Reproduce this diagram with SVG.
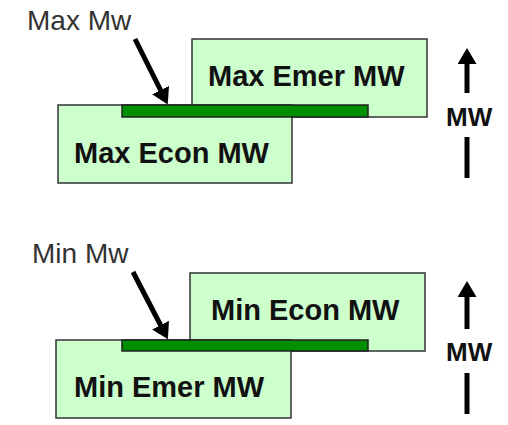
<svg xmlns="http://www.w3.org/2000/svg" width="508" height="425" viewBox="0 0 508 425">
<style>
.box{fill:#ccffcc;stroke:#333;stroke-width:1.5}
.bar{fill:#008f00;stroke:#222;stroke-width:1.5}
.lbl{font-family:"Liberation Sans",Arial,sans-serif;font-size:28px;fill:#333}
.bl{font-family:"Liberation Sans",Arial,sans-serif;font-size:29px;font-weight:bold;fill:#111}
.mw{font-family:"Liberation Sans",Arial,sans-serif;font-size:26px;font-weight:bold;fill:#111}
.ln{stroke:#000;stroke-width:5;fill:none}
</style>
<defs>
<marker id="ah" markerUnits="userSpaceOnUse" markerWidth="17" markerHeight="19" refX="1" refY="9.5" orient="auto">
<path d="M0,0 L16,9.5 L0,19 Z" fill="#000"/>
</marker>
</defs>
<rect width="508" height="425" fill="#fff"/>
<g id="max-emer">
<rect class="box" x="192" y="39" width="235" height="78"/>
<text class="bl" x="208" y="86">Max Emer MW</text>
</g>
<g id="max-econ">
<rect class="box" x="58" y="105" width="234" height="78"/>
<text class="bl" x="74" y="163">Max Econ MW</text>
</g>
<g id="max-bar">
<rect class="bar" x="122" y="105" width="246" height="12"/>
</g>
<g id="max-label">
<text class="lbl" x="27" y="30">Max Mw</text>
</g>
<g id="max-axis">
<text class="mw" x="446" y="126">MW</text>
</g>
<g id="min-econ">
<rect class="box" x="190" y="273" width="235" height="78"/>
<text class="bl" x="211" y="320">Min Econ MW</text>
</g>
<g id="min-emer">
<rect class="box" x="56" y="340" width="235" height="78"/>
<text class="bl" x="74" y="397">Min Emer MW</text>
</g>
<g id="min-bar">
<rect class="bar" x="122" y="340" width="246" height="11"/>
</g>
<g id="min-label">
<text class="lbl" x="32" y="263">Min Mw</text>
</g>
<g id="min-axis">
<text class="mw" x="446" y="361">MW</text>
</g>
<g id="connectors">
<line class="ln" x1="135" y1="39" x2="161" y2="91" marker-end="url(#ah)"/>
<line class="ln" x1="467" y1="93" x2="467" y2="63" marker-end="url(#ah)"/>
<line class="ln" x1="467" y1="137" x2="467" y2="178"/>
<line class="ln" x1="133" y1="272" x2="161" y2="326" marker-end="url(#ah)"/>
<line class="ln" x1="467" y1="329" x2="467" y2="296" marker-end="url(#ah)"/>
<line class="ln" x1="467" y1="373" x2="467" y2="414"/>
</g>
</svg>
